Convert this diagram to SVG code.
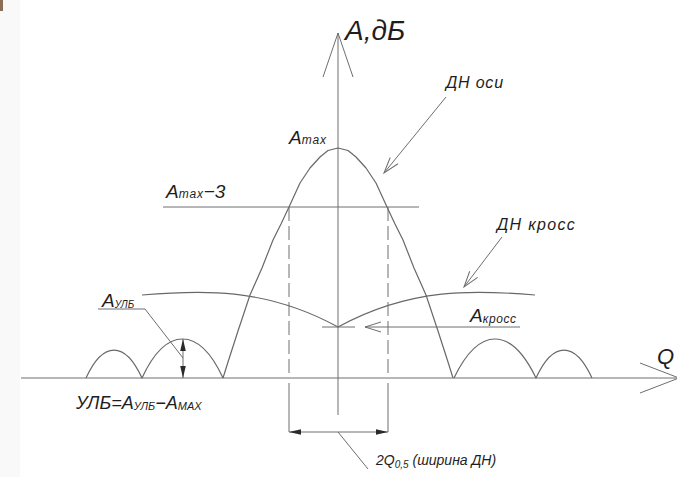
<svg xmlns="http://www.w3.org/2000/svg" width="677" height="477" viewBox="0 0 677 477">
  <style>
    .ln { stroke: #6e6e6e; stroke-width: 1; fill: none; }
    .cv { stroke: #686868; stroke-width: 1.2; fill: none; stroke-linejoin: round; }
    .dash { stroke: #6e6e6e; stroke-width: 1; fill: none; stroke-dasharray: 14 5; }
    .t { font-family: "Liberation Sans", "DejaVu Sans", sans-serif; font-style: italic; fill: #1e1e1e; }
  </style>
  <defs>
    <marker id="open" markerUnits="userSpaceOnUse" orient="auto" overflow="visible" markerWidth="20" markerHeight="12" refX="0" refY="0">
      <path d="M-16,-5 L0,0 L-16,5" fill="none" stroke="#6e6e6e" stroke-width="1"/>
    </marker>
    <marker id="solid" markerUnits="userSpaceOnUse" orient="auto-start-reverse" overflow="visible" markerWidth="14" markerHeight="8" refX="0" refY="0">
      <path d="M-12,-2.8 L0,0 L-12,2.8 Z" fill="#2a2a2a"/>
    </marker>
  </defs>
  <rect width="677" height="477" fill="#ffffff"/>
  <rect x="0" y="0" width="20" height="477" fill="#f9f9f9"/>
  <rect x="0" y="0" width="3" height="11" fill="#8c6d55"/>

  <g id="axes">
    <line class="ln" x1="338" y1="33" x2="338" y2="415"/>
    <polyline class="ln" points="323,77 338,33 353,77"/>
    <line class="ln" x1="21" y1="378" x2="677" y2="378"/>
    <polyline class="ln" points="640,363 679,378 640,393"/>
  </g>

  <g id="main-lobe">
    <path class="cv" d="M223,378 L228,362 L238,331 L250,295 L262,268 L273,240 L281,224 L289,207 L300,183 L310,168 L320,157 L328,150.5 L338,148 L348,150.5 L356,157 L366,168 L376,183 L387,207 L395,224 L403,240 L414,268 L426,295 L438,331 L448,362 L453,378"/>
  </g>

  <g id="side-lobes">
    <path class="cv" d="M86,378 C103,340.7 125,340.7 142,378 C166,326 199,326 223,378"/>
    <path class="cv" d="M454,378 C479,326 511,326 536,378 C553,340.7 575,340.7 592,378"/>
  </g>

  <g id="cross-pattern">
    <path class="cv" d="M142,295 C200,290 265,287 338,327 C411,287 476,290 535,295"/>
    <line class="ln" x1="322" y1="327" x2="355" y2="327"/>
  </g>

  <g id="half-power">
    <line class="ln" x1="163" y1="207" x2="419" y2="207"/>
    <line class="dash" x1="289" y1="207" x2="289" y2="374"/>
    <line class="dash" x1="388" y1="207" x2="388" y2="374"/>
    <line class="ln" x1="289" y1="383" x2="289" y2="432"/>
    <line class="ln" x1="388" y1="383" x2="388" y2="432"/>
  </g>

  <g id="connectors">
    <line class="ln" x1="446" y1="97" x2="384" y2="173" marker-end="url(#open)"/>
    <line class="ln" x1="502" y1="237" x2="464" y2="287" marker-end="url(#open)"/>
    <line class="ln" x1="520" y1="327" x2="365" y2="327" marker-end="url(#open)"/>
    <line class="ln" x1="183" y1="339" x2="183" y2="378" marker-start="url(#solid)" marker-end="url(#solid)"/>
    <polyline class="ln" points="98,309 145,309 183,358"/>
    <line class="ln" x1="289" y1="432" x2="388" y2="432" marker-start="url(#solid)" marker-end="url(#solid)"/>
    <line class="ln" x1="338" y1="432" x2="368" y2="469"/>
  </g>

  <g id="label-axis-y"><text class="t" x="345" y="40" font-size="28">A,дБ</text></g>
  <g id="label-axis-x"><text class="t" x="657" y="364" font-size="22">Q</text></g>
  <g id="label-dn-osi"><text class="t" x="446" y="88" font-size="16" letter-spacing="0.8">ДН  оси</text></g>
  <g id="label-dn-kross"><text class="t" x="497" y="230" font-size="16" letter-spacing="1.3">ДН  кросс</text></g>
  <g id="label-amax"><text class="t" x="289" y="144" font-size="19">A<tspan font-size="12" letter-spacing="0.8">max</tspan></text></g>
  <g id="label-amax3"><text class="t" x="166" y="198" font-size="19">A<tspan font-size="12" letter-spacing="0.8">max</tspan>−3</text></g>
  <g id="label-akross"><text class="t" x="470" y="322" font-size="19">A<tspan font-size="12" dy="1" letter-spacing="0.6">кросс</tspan></text></g>
  <g id="label-aulb"><text class="t" x="102" y="307" font-size="19">A<tspan font-size="10" dy="1">УЛБ</tspan></text></g>
  <g id="label-formula"><text class="t" x="76" y="409" font-size="18">УЛБ=A<tspan font-size="11" dy="1">УЛБ</tspan><tspan dy="-1">−A</tspan><tspan font-size="11" dy="1">MAX</tspan></text></g>
  <g id="label-width"><text class="t" x="376" y="465" font-size="14">2Q<tspan font-size="10" dy="3">0,5</tspan><tspan dy="-3"> (ширина ДН)</tspan></text></g>
</svg>
